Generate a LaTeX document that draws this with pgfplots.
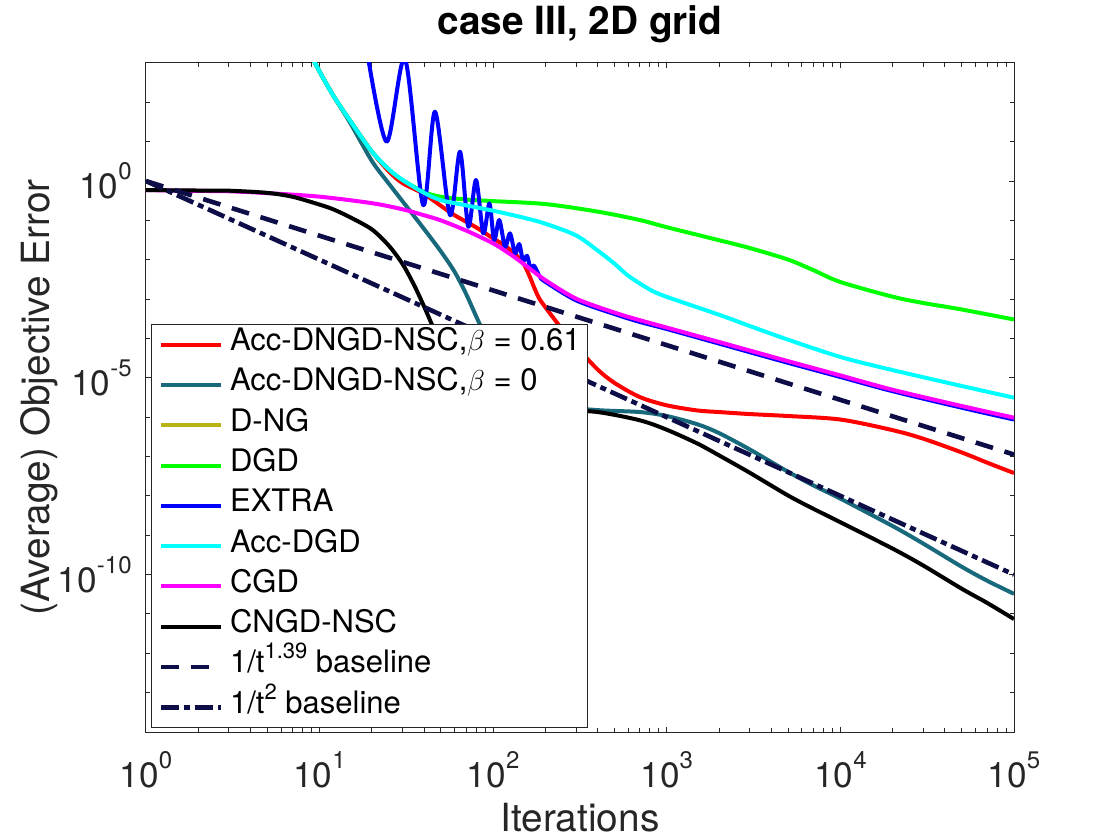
\documentclass[border=0pt]{standalone}
\usepackage{pgfplots}
\pgfplotsset{compat=1.18}
\usepackage{fontspec}
\setmainfont{TeX Gyre Heros}

\definecolor{axisgray}{rgb}{0.15,0.15,0.15}
\definecolor{pred}{RGB}{255,0,0}
\definecolor{tealblue}{RGB}{25,105,125}
\definecolor{olivey}{RGB}{184,180,20}
\definecolor{pgreen}{RGB}{0,255,0}
\definecolor{pblue}{RGB}{0,0,255}
\definecolor{pcyan}{RGB}{0,255,255}
\definecolor{pmagenta}{RGB}{255,0,255}
\definecolor{navy}{RGB}{13,13,72}

% power-of-ten tick label in the text font
\newcommand{\tenpow}[1]{10\raisebox{9.5pt}{\fontsize{12}{12}\selectfont #1}}

\begin{document}
\begin{tikzpicture}
\path[use as bounding box] (-73pt,-54pt) rectangle (487pt,366pt);
\begin{axis}[
  at={(0,0)}, anchor=south west,
  scale only axis, width=434pt, height=334.5pt,
  xmode=log, ymode=log,
  xmin=1, xmax=1e5, ymin=1e-14, ymax=1e3,
  axis line style={axisgray, line width=0.5pt},
  tick style={axisgray, line width=0.5pt},
  major tick length=2.6pt, minor tick length=2.2pt,
  xtick={1,10,100,1000,10000,100000},
  xticklabels={\tenpow{0},\tenpow{1},\tenpow{2},\tenpow{3},\tenpow{4},\tenpow{5}},
  minor xtick={2,3,4,5,6,7,8,9,20,30,40,50,60,70,80,90,200,300,400,500,600,700,800,900,
    2000,3000,4000,5000,6000,7000,8000,9000,20000,30000,40000,50000,60000,70000,80000,90000},
  ytick={1e-10,1e-5,1},
  yticklabels={\tenpow{-10},\tenpow{-5},\tenpow{0}},
  minor ytick={1e-14,1e-13,1e-12,1e-11,1e-10,1e-9,1e-8,1e-7,1e-6,1e-5,1e-4,1e-3,1e-2,1e-1,1,10,100,1000},
  tick label style={font=\fontsize{17.6}{20}\selectfont, text=axisgray, inner sep=0pt},
  xticklabel style={anchor=base, yshift=-27.5pt},
  yticklabel style={anchor=east, xshift=-7pt},
  title={case III, 2D grid},
  title style={at={(axis description cs:0.5,1)}, anchor=base, yshift=8pt,
    font=\bfseries\fontsize{19.4}{22}\selectfont},
  xlabel={Iterations},
  xlabel style={at={([yshift=-49.5pt]axis description cs:0.5,0)}, anchor=base,
    font=\fontsize{19.4}{22}\selectfont, text=axisgray},
  ylabel={(Average) Objective Error},
  ylabel style={at={([xshift=-48pt]axis description cs:0,0.5)}, anchor=base,
    font=\fontsize{19.4}{22}\selectfont, text=axisgray},
  legend style={at={(axis description cs:0,0)}, anchor=south west, xshift=2.5pt, yshift=2pt,
    draw=axisgray, line width=0.5pt, fill=white,
    font=\fontsize{15.5}{18}\selectfont,
    inner xsep=3.5pt, inner ysep=0pt, row sep=0pt, column sep=3.5pt,
    nodes={inner sep=0pt, text height=13pt, text depth=7.15pt}},
  legend cell align=left,
  legend image code/.code={\draw[#1] (0pt,0pt) -- (30pt,0pt);},
  every axis plot/.append style={line width=2pt, line join=round},
]

% Acc-DNGD-NSC, beta = 0.61
\addplot[pred, smooth] coordinates {
 (8,3980) (10,603) (12,148) (15,34.1) (20,5.62) (25,1.78) (30,0.891) (40,0.468)
 (50,0.234) (60,0.135) (80,0.0661) (100,0.0347) (120,0.0209) (150,7.76e-3)
 (180,1.26e-3) (200,6.17e-4) (250,1.70e-4) (300,6.31e-5) (400,1.62e-5)
 (500,7.41e-6) (700,3.24e-6) (1000,2.0e-6) (1500,1.48e-6) (2000,1.35e-6)
 (3000,1.20e-6) (5000,1.07e-6) (10000,8.71e-7) (20000,4.68e-7) (30000,2.84e-7)
 (50000,1.27e-7) (70000,7.0e-8) (100000,3.80e-8)
};
\addlegendentry{Acc-DNGD-NSC,$\beta$ = 0.61}

% Acc-DNGD-NSC, beta = 0
\addplot[tealblue, smooth] coordinates {
 (8,3980) (10,603) (12,148) (15,30.2) (20,3.24) (25,0.871) (30,0.309) (40,0.0603)
 (50,0.0162) (60,4.9e-3) (70,1.32e-3) (80,3.55e-4) (90,1.17e-4) (100,5.01e-5)
 (125,1.05e-5) (160,4.17e-6) (250,1.91e-6) (400,1.51e-6) (700,1.35e-6)
 (1000,1.07e-6) (1500,6.6e-7) (2000,3.94e-7) (3000,1.52e-7) (5000,4.08e-8)
 (7000,1.84e-8) (10000,8.51e-9) (20000,1.71e-9) (30000,6.14e-10) (50000,1.58e-10)
 (70000,7.0e-11) (100000,3.24e-11)
};
\addlegendentry{Acc-DNGD-NSC,$\beta$ = 0}

% D-NG
\addlegendimage{olivey, line width=2pt}
\addlegendentry{D-NG}

% DGD
\addplot[pgreen, smooth] coordinates {
 (8,3980) (10,603) (12,148) (15,34.1) (20,5.62) (25,2.0) (30,1.07) (40,0.525)
 (50,0.398) (70,0.339) (100,0.309) (200,0.26) (400,0.167) (700,0.102)
 (1000,0.0671) (2000,0.0314) (3000,0.0199) (5000,0.0101) (7000,5.43e-3)
 (10000,2.72e-3) (20000,1.15e-3) (30000,7.98e-4) (50000,5.45e-4) (100000,3.03e-4)
};
\addlegendentry{DGD}

% EXTRA
\addplot[pblue, smooth] coordinates {
 (18.6,2512) (24.3,10) (31.05,1259) (39.5,0.245) (46.2,57.9) (56.4,0.136)
 (64.4,5.57) (71.9,0.0687) (79.6,1.06) (87.7,0.0467) (95.1,0.271) (101.2,0.0316)
 (108.4,0.102) (117,0.0213) (125,0.0467) (133.7,0.0145) (141.3,0.0251)
 (148.6,9.33e-3) (156.7,0.0126) (164.1,6.03e-3) (171.8,7.08e-3) (186.2,3.63e-3)
 (200,2.75e-3) (300,9.33e-4) (500,4.17e-4) (700,2.63e-4) (1000,1.74e-4)
 (2000,7.41e-5) (5000,2.40e-5) (10000,1.05e-5) (20000,4.57e-6) (50000,1.74e-6)
 (100000,8.71e-7)
};
\addlegendentry{EXTRA}

% Acc-DGD
\addplot[pcyan, smooth] coordinates {
 (8,3980) (10,603) (12,148) (15,34.1) (20,5.62) (25,2.0) (30,1.07) (40,0.501)
 (50,0.326) (70,0.241) (100,0.176) (150,0.117) (200,0.0824) (300,0.0417)
 (400,0.0171) (500,7.94e-3) (600,3.92e-3) (800,1.74e-3) (1000,1.14e-3)
 (2000,4.01e-4) (3000,2.08e-4) (5000,9.3e-5) (10000,3.39e-5) (20000,1.57e-5)
 (50000,6.19e-6) (100000,3.13e-6)
};
\addlegendentry{Acc-DGD}

% CGD
\addplot[pmagenta, smooth] coordinates {
 (1,0.590) (2,0.562) (3,0.550) (5,0.494) (10,0.401) (20,0.274) (30,0.192)
 (40,0.135) (50,0.100) (70,0.0550) (100,0.0260) (130,0.0124) (160,6.27e-3)
 (200,3.03e-3) (300,1.03e-3) (500,4.55e-4) (700,2.91e-4) (1000,1.89e-4)
 (2000,8.13e-5) (5000,2.65e-5) (10000,1.15e-5) (20000,4.97e-6) (50000,1.92e-6)
 (100000,9.7e-7)
};
\addlegendentry{CGD}

% CNGD-NSC
\addplot[black, smooth] coordinates {
 (1,0.590) (2,0.575) (3,0.569) (5,0.501) (7,0.398) (10,0.252) (12,0.191)
 (15,0.120) (20,0.0592) (25,0.0230) (30,7.9e-3) (35,2.29e-3) (40,6.46e-4)
 (45,1.95e-4) (50,7.08e-5) (60,1.78e-5) (80,5.01e-6) (100,3.16e-6) (150,1.91e-6)
 (250,1.51e-6) (400,1.35e-6) (700,8.32e-7) (1000,4.79e-7) (1500,2.14e-7)
 (2000,1.07e-7) (3000,3.89e-8) (5000,1.02e-8) (7000,4.68e-9) (10000,2.14e-9)
 (20000,4.57e-10) (30000,1.70e-10) (50000,4.37e-11) (70000,1.91e-11)
 (100000,7.41e-12)
};
\addlegendentry{CNGD-NSC}

% reference rates
\addplot[navy, line width=2.3pt, dash pattern=on 9pt off 6pt] coordinates {
 (1,1) (100000,1.122e-7)
};
\addlegendentry{1/t\raisebox{7pt}{\fontsize{11}{11}\selectfont 1.39} baseline}

\addplot[navy, line width=2.3pt, dash pattern=on 9pt off 2.5pt on 3pt off 2.5pt] coordinates {
 (1,1) (100000,1e-10)
};
\addlegendentry{1/t\raisebox{7pt}{\fontsize{11}{11}\selectfont 2} baseline}

\end{axis}
\end{tikzpicture}
\end{document}
